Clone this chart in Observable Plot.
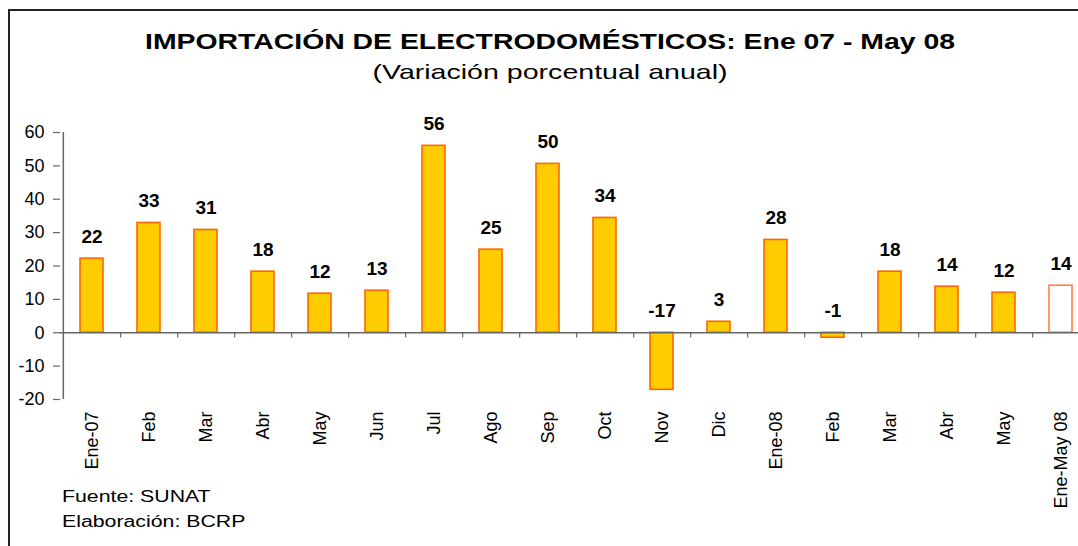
<!DOCTYPE html>
<html>
<head>
<meta charset="utf-8">
<script src="https://cdn.jsdelivr.net/npm/d3@7"></script>
<script src="https://cdn.jsdelivr.net/npm/@observablehq/plot@0.6"></script>
<style>
  html, body { margin: 0; padding: 0; background: #fff; }
  #wrap { position: relative; width: 1078px; height: 546px; overflow: hidden; font-family: "Liberation Sans", Arial, sans-serif; color: #000; }
  #frame { position: absolute; left: 8px; top: 9px; width: 1200px; height: 700px; border-top: 2px solid #222; border-left: 2px solid #222; }
  .t { position: absolute; left: 0; width: 1100px; text-align: center; white-space: nowrap; transform-origin: 550px 50%; }
  #title { top: 31px; font-size: 22px; line-height: 22px; font-weight: bold; transform: scaleX(1.29); }
  #subtitle { top: 61px; font-size: 21px; line-height: 21px; transform: scaleX(1.36); }
  .foot { position: absolute; left: 62px; font-size: 16px; line-height: 16px; white-space: nowrap; transform-origin: 0 50%; transform: scaleX(1.33); z-index: 2; }
  #chart { position: absolute; left: 0; top: 100px; z-index: 1; }
  #chart svg { background: transparent !important; }
</style>
</head>
<body>
<div id="wrap">
  <div id="frame"></div>
  <div id="title" class="t">IMPORTACIÓN DE ELECTRODOMÉSTICOS: Ene 07 - May 08</div>
  <div id="subtitle" class="t">(Variación porcentual anual)</div>
  <div id="chart"></div>
  <div class="foot" style="top:489px">Fuente: SUNAT</div>
  <div class="foot" style="top:514px">Elaboración: BCRP</div>
</div>
<script>
const categories = ["Ene-07","Feb","Mar","Abr","May","Jun","Jul","Ago","Sep","Oct","Nov","Dic","Ene-08","Feb ","Mar ","Abr ","May ","Ene-May 08"];
const values = [22.2, 32.9, 30.8, 18.3, 11.7, 12.6, 56.0, 24.9, 50.6, 34.4, -17.1, 3.3, 27.8, -1.5, 18.3, 13.8, 12.0, 14.1];
const valueLabels = ["22","33","31","18","12","13","56","25","50","34","-17","3","28","-1","18","14","12","14"];
const yTicks = [-20, -10, 0, 10, 20, 30, 40, 50, 60];
const cumulativeCategory = "Ene-May 08";

const data = categories.map((c, i) => ({cat: c, v: values[i], label: valueLabels[i]}));

const xRange = [60, 1092];
const step = (xRange[1] - xRange[0]) / categories.length;
const axisColor = "#666";

const chart = Plot.plot({
  width: 1078,
  height: 446,
  marginTop: 32,
  marginBottom: 147,
  marginLeft: 60,
  marginRight: 0,
  style: {fontFamily: "Liberation Sans, Arial, sans-serif", color: "#000", background: "transparent"},
  x: {domain: categories, range: xRange, paddingInner: 0.6, paddingOuter: 0.27, label: null},
  y: {domain: [-20, 60], label: null},
  marks: [
    Plot.barY(data, {
      x: "cat", y: "v",
      fill: d => d.cat === cumulativeCategory ? "#ffffff" : "#FFCC00",
      stroke: d => d.cat === cumulativeCategory ? "#FF7F40" : "#FF6600",
      strokeWidth: 1.6
    }),
    Plot.ruleY([0], {stroke: axisColor, strokeWidth: 1.5}),
    Plot.ruleX([categories[0]], {x: d => d, y1: -20, y2: 60, dx: -step / 2, stroke: axisColor, strokeWidth: 1.5}),
    Plot.ruleX(categories, {x: d => d, y1: 0, y2: -1.6, dx: step / 2, stroke: axisColor, strokeWidth: 1.2}),
    Plot.axisY({ticks: yTicks, tickSize: 7, tickPadding: 9, tickFormat: d => String(d), fontSize: 18, stroke: axisColor, strokeWidth: 1.2, label: null}),
    Plot.axisX({anchor: "bottom", tickSize: 0, tickPadding: 12, tickRotate: -90, fontSize: 18, label: null, tickFormat: d => d.trim()}),
    Plot.text(data, {
      x: "cat", y: d => Math.max(d.v, 0), text: "label",
      dy: -22, fontSize: 19, fontWeight: "bold", fill: "#000"
    })
  ]
});
document.getElementById("chart").appendChild(chart);
</script>
</body>
</html>
